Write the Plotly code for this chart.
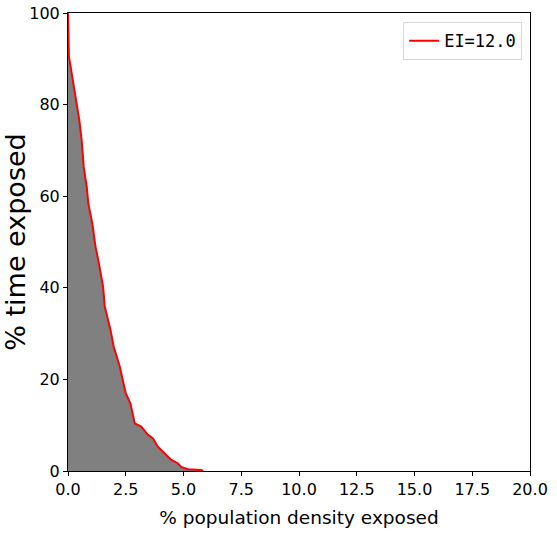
import plotly.graph_objects as go

# Exceedance curve: % time exposed vs % population density exposed
density_pct = [0.00, 0.04, 0.09, 0.23, 0.42, 0.49, 0.59, 0.68, 0.81, 0.88, 1.05,
               1.19, 1.31, 1.52, 1.59, 1.74, 1.84, 1.98, 2.24, 2.50, 2.70, 2.89,
               3.17, 3.46, 3.68, 3.89, 4.18, 4.47, 4.75, 4.90, 5.19, 5.76, 5.85]
time_pct = [100.0, 90.5, 89.0, 84.6, 79.5, 76.6, 72.3, 66.4, 62.1, 58.4, 54.1,
            49.0, 46.1, 40.2, 35.9, 33.0, 30.8, 27.1, 22.8, 17.0, 14.8, 10.4,
            9.7, 7.9, 7.1, 5.3, 3.9, 2.4, 1.7, 0.9, 0.4, 0.2, 0.0]
legend_label = 'EI=12.0'
x_ticks = [0, 2.5, 5, 7.5, 10, 12.5, 15, 17.5, 20]
y_ticks = [0, 20, 40, 60, 80, 100]

fig = go.Figure()
# gray area under the curve
fig.add_trace(go.Scatter(
    x=density_pct,
    y=time_pct,
    mode='lines',
    fill='tozeroy',
    fillcolor='#808080',
    line=dict(width=0, color='#808080'),
    showlegend=False,
    hoverinfo='skip',
))
# red curve on top
fig.add_trace(go.Scatter(
    x=density_pct,
    y=time_pct,
    mode='lines',
    name=legend_label,
    line=dict(color='red', width=2),
))

axis_style = dict(
    showline=True,
    linecolor='black',
    linewidth=1,
    mirror=True,
    ticks='outside',
    ticklen=4,
    tickcolor='black',
    showgrid=False,
    zeroline=False,
    automargin=False,
    ticklabeloverflow='allow',
    tickfont=dict(size=16, color='black'),
)

fig.update_layout(
    width=557,
    height=546,
    margin=dict(l=68, r=27, t=13, b=75),
    plot_bgcolor='white',
    paper_bgcolor='white',
    font=dict(family='DejaVu Sans', color='black'),
    showlegend=True,
    legend=dict(
        x=0.983, y=0.98, xanchor='right', yanchor='top',
        bgcolor='white', bordercolor='#d8d8d8', borderwidth=1,
        font=dict(family='DejaVu Sans Mono', size=17, color='black'),
    ),
    xaxis=dict(
        axis_style,
        range=[0, 20],
        tickvals=x_ticks,
        tickformat='.1f',
        title=dict(text='% population density exposed', font=dict(size=18.5), standoff=12),
    ),
    yaxis=dict(
        axis_style,
        range=[0, 100],
        tickvals=y_ticks,
        title=dict(text='% time exposed', font=dict(size=27), standoff=3),
    ),
)

# drop the default page margin so the figure sits at the top-left corner
fig.write_html("out.html", config={'displayModeBar': False},
               post_script="document.body.style.margin='0';")
